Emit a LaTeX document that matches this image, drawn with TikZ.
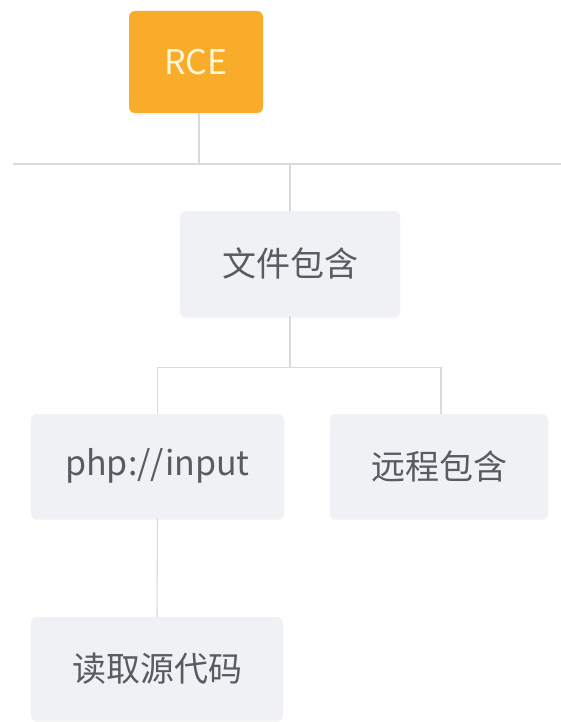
\documentclass[tikz,border=0pt]{standalone}
\usepackage{fontspec}
\newfontfamily\cjk{Noto Sans CJK SC}
\definecolor{orangebox}{HTML}{F8AC29}
\definecolor{graybox}{HTML}{F0F1F5}
\definecolor{graytext}{HTML}{5A5B60}
\definecolor{linegray}{HTML}{DADADC}
\definecolor{rcetext}{HTML}{FFF6DA}
\tikzset{
  x=1pt, y=-1pt,
  basebox/.style={rounded corners=6pt, inner sep=0pt, font=\cjk\fontsize{34}{40}\selectfont,
    preaction={fill=black, fill opacity=0.04, transform canvas={yshift=-2pt}}},
  rootbox/.style={basebox, fill=orangebox, text=rcetext, minimum width=134pt, minimum height=102pt},
  topicbox/.style={basebox, fill=graybox, text=graytext},
  conn/.style={draw=linegray, line width=1.1pt}
}
\begin{document}
\begin{tikzpicture}
\useasboundingbox[fill=white] (0,0) rectangle (561,722);
\node[rootbox] (rce) at (196,62) {RCE};
\node[topicbox, minimum width=220pt, minimum height=105pt] (file) at (290,263.5) {文件包含};
\node[topicbox, minimum width=253pt, minimum height=104pt] (php) at (157.5,466) {php://input};
\node[topicbox, minimum width=218pt, minimum height=104pt] (remote) at (439,466) {远程包含};
\node[topicbox, minimum width=252pt, minimum height=103pt] (read) at (157,668.5) {读取源代码};
\coordinate (hl) at (13,164);
\coordinate (hr) at (561,164);
\coordinate (rj) at (199,164);
\coordinate (fj) at (290,164);
\draw[conn] (hl) -- (hr);
\draw[conn] (rce.south -| rj) -- (rj);
\draw[conn] (fj) -- (file.north);
\draw[conn] (file.south) -- ++(0,51) coordinate (bj);
\draw[conn] (php.north) |- (bj);
\draw[conn] (bj) -| ([xshift=2pt]remote.north);
\draw[conn] (php.south) -- (read.north);
\end{tikzpicture}
\end{document}
